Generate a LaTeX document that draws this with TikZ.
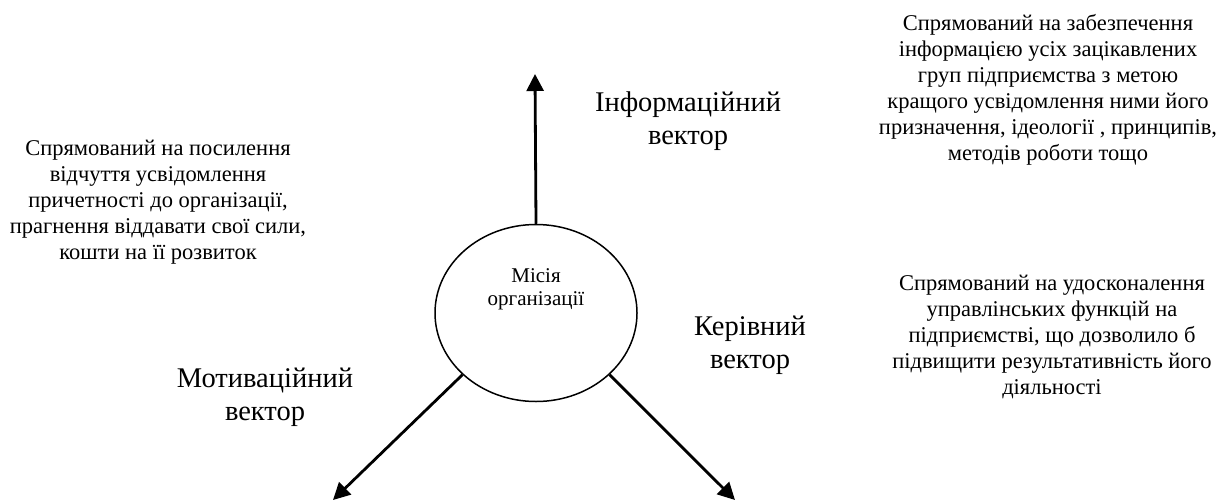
\documentclass[tikz,border=0pt]{standalone}
\usepackage{fontspec}
\setmainfont{Liberation Serif}
\usetikzlibrary{shapes.geometric,arrows.meta}
\tikzset{
  small/.style={inner sep=0pt, align=center, font=\fontsize{22.5}{26}\selectfont},
  big/.style={inner sep=0pt, align=center, font=\fontsize{28.5}{33}\selectfont},
  mid/.style={inner sep=0pt, align=center, font=\fontsize{21}{23}\selectfont},
  vec/.style={line width=2.8pt, -{Triangle[length=17pt,width=17pt]}},
}
\begin{document}
\begin{tikzpicture}[x=1pt,y=-1pt]
\useasboundingbox (0,0) rectangle (1225,501);
\node[draw, ellipse, line width=1.5pt, minimum width=202pt, minimum height=177pt, inner sep=0pt] (m) at (536,313) {};
\node[mid] (mt) at (536,289) {Місія\\організації};
\coordinate (top) at (535,74);
\coordinate (bl) at (333,500);
\coordinate (br) at (735,500);
\draw[vec] (m.north) -- (top);
\draw[vec] (m.220) -- (bl);
\draw[vec] (m.320) -- (br);
\node[big] (li) at (688,121) {Інформаційний\\вектор};
\node[big] (lk) at (750,345) {Керівний\\вектор};
\node[big] (lm) at (265,397) {Мотиваційний\\вектор};
\node[small] (tl) at (158,202) {Спрямований на посилення\\відчуття усвідомлення\\причетності до організації,\\прагнення віддавати свої сили,\\кошти на її розвиток};
\node[small] (tr) at (1048,90) {Спрямований на забезпечення\\інформацією усіх зацікавлених\\груп підприємства з метою\\кращого усвідомлення ними його\\призначення, ідеології , принципів,\\методів роботи тощо};
\node[small] (rr) at (1052,337) {Спрямований на удосконалення\\управлінських функцій на\\підприємстві, що дозволило б\\підвищити результативність його\\діяльності};
\end{tikzpicture}
\end{document}
